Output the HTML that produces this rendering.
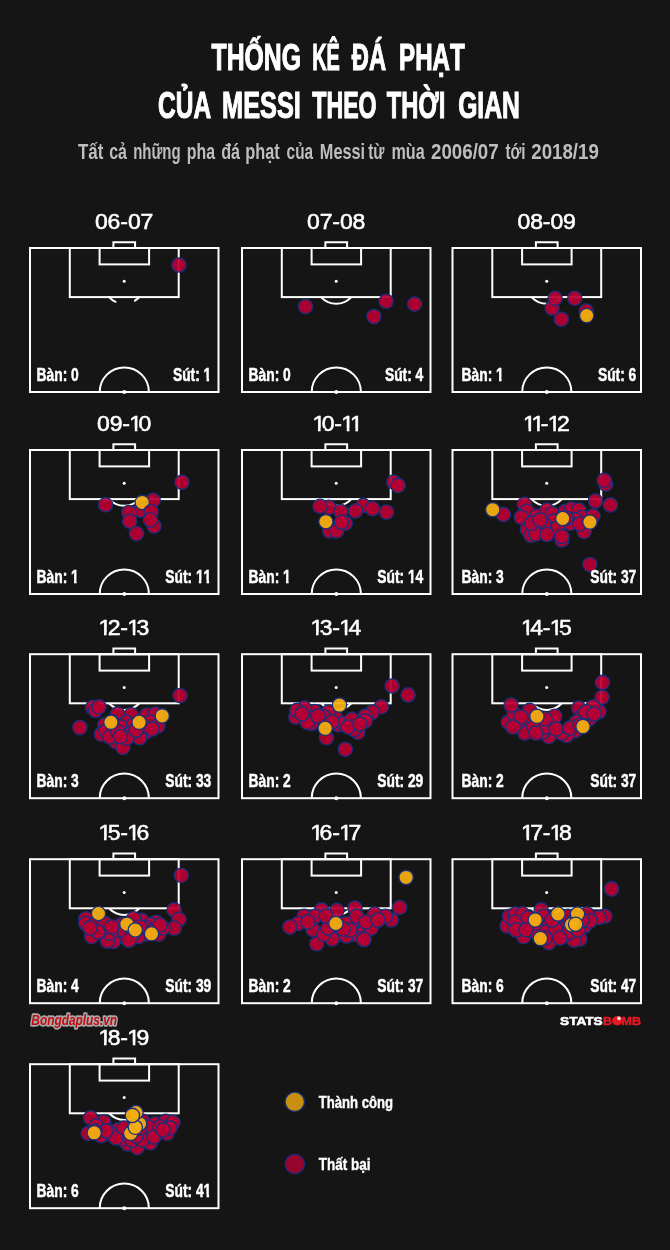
<!DOCTYPE html>
<html lang="vi"><head><meta charset="utf-8"><title>Thống kê đá phạt của Messi theo thời gian</title>
<style>
html,body{margin:0;padding:0;background:#151515;}
body{width:670px;height:1250px;overflow:hidden;font-family:"Liberation Sans",sans-serif;}
svg{display:block}
text{font-family:"Liberation Sans",sans-serif;fill:#fff}
.h1{font-weight:bold;font-size:36px;stroke:#fff;stroke-width:1.1px}
.sub{font-weight:bold;font-size:21.6px;fill:#bebebe}
.ttl{font-size:21.5px;stroke:#fff;stroke-width:.55px}
.st{font-kerning:none;font-weight:bold;font-size:18.3px;stroke:#fff;stroke-width:.5px}
.lg{font-weight:bold;font-size:17px;stroke:#fff;stroke-width:.4px}
.c{fill:#b80033;fill-opacity:.93;stroke:#17307c;stroke-width:1.3}
.g{fill:#f5ae10;fill-opacity:.94;stroke:#17307c;stroke-width:1.3}
.wm{font-weight:bold;font-style:italic;font-size:14.5px;fill:#c20d12;stroke:#a8a8a8;stroke-width:3.4px;paint-order:stroke fill;stroke-linejoin:round}
.sb{font-weight:bold;font-size:11.5px;stroke:#fff;stroke-width:.55px}
</style></head><body>
<svg width="670" height="1250" viewBox="0 0 670 1250">
<rect width="670" height="1250" fill="#151515"/>
<text class="h1" y="70.2"><tspan x="211.58" textLength="89.40" lengthAdjust="spacingAndGlyphs">THỐNG</tspan> <tspan x="312.13" textLength="27.70" lengthAdjust="spacingAndGlyphs">KÊ</tspan> <tspan x="351.78" textLength="34.30" lengthAdjust="spacingAndGlyphs">ĐÁ</tspan> <tspan x="399.06" textLength="65.64" lengthAdjust="spacingAndGlyphs">PHẠT</tspan></text>
<text class="h1" y="118.0"><tspan x="158.06" textLength="52.12" lengthAdjust="spacingAndGlyphs">CỦA</tspan> <tspan x="222.08" textLength="78.76" lengthAdjust="spacingAndGlyphs">MESSI</tspan> <tspan x="312.30" textLength="64.32" lengthAdjust="spacingAndGlyphs">THEO</tspan> <tspan x="386.79" textLength="58.45" lengthAdjust="spacingAndGlyphs">THỜI</tspan> <tspan x="458.14" textLength="61.66" lengthAdjust="spacingAndGlyphs">GIAN</tspan></text>
<text class="sub" y="158.6"><tspan x="77.91" textLength="25.39" lengthAdjust="spacingAndGlyphs">Tất</tspan> <tspan x="109.18" textLength="17.71" lengthAdjust="spacingAndGlyphs">cả</tspan> <tspan x="133.13" textLength="47.47" lengthAdjust="spacingAndGlyphs">những</tspan> <tspan x="186.77" textLength="28.22" lengthAdjust="spacingAndGlyphs">pha</tspan> <tspan x="221.14" textLength="18.92" lengthAdjust="spacingAndGlyphs">đá</tspan> <tspan x="245.24" textLength="34.45" lengthAdjust="spacingAndGlyphs">phạt</tspan> <tspan x="286.60" textLength="26.49" lengthAdjust="spacingAndGlyphs">của</tspan> <tspan x="319.83" textLength="45.22" lengthAdjust="spacingAndGlyphs">Messi</tspan> <tspan x="368.22" textLength="16.27" lengthAdjust="spacingAndGlyphs">từ</tspan> <tspan x="391.45" textLength="33.24" lengthAdjust="spacingAndGlyphs">mùa</tspan> <tspan x="430.96" textLength="67.74" lengthAdjust="spacingAndGlyphs">2006/07</tspan> <tspan x="505.42" textLength="20.15" lengthAdjust="spacingAndGlyphs">tới</tspan> <tspan x="531.26" textLength="67.60" lengthAdjust="spacingAndGlyphs">2018/19</tspan></text>
<g transform="translate(30.0,248.0)" fill="none" stroke="#fff" stroke-width="2.0">
<rect x="0" y="0" width="188.5" height="144.0"/>
<rect x="39.8" y="0" width="108.9" height="49.1"/>
<rect x="69.6" y="0" width="49.5" height="16.4"/>
<path d="M83.4 0V-5.8H105.1V0"/>
<path d="M79.0 49.1A21.5 22.6 0 0 0 85.5 53.8M109.4 49.1A21.5 22.6 0 0 1 104.9 52.7" stroke-linecap="round"/>
<path d="M69.7 144.0A24.6 24.6 0 0 1 118.9 144.0"/>
<circle cx="94.2" cy="33.2" r="1.5" fill="#fff" stroke="none"/>
<circle cx="94.3" cy="144.0" r="2" fill="#fff" stroke="none"/>
</g>
<circle class="c" cx="179.0" cy="265.0" r="7.15"/>
<text class="ttl" transform="translate(0,229.2) scale(1.07,1)" x="88.87 100.58 112.50 119.53 131.30" y="0">06-07</text>
<text class="st" transform="translate(36.60,380.80) scale(0.755,1)">Bàn: 0</text>
<text class="st" transform="translate(211.30,380.80) scale(0.755,1)" text-anchor="end">Sút: 1</text><g fill="#151515"><rect x="203.19" y="377.93" width="3.30" height="4.07"/><rect x="209.09" y="377.93" width="4.28" height="4.07"/></g>
<g transform="translate(242.0,248.0)" fill="none" stroke="#fff" stroke-width="2.0">
<rect x="0" y="0" width="188.5" height="144.0"/>
<rect x="39.8" y="0" width="108.9" height="49.1"/>
<rect x="69.6" y="0" width="49.5" height="16.4"/>
<path d="M83.4 0V-5.8H105.1V0"/>
<path d="M79.0 49.1A21.5 22.6 0 0 0 109.4 49.1"/>
<path d="M69.7 144.0A24.6 24.6 0 0 1 118.9 144.0"/>
<circle cx="94.2" cy="33.2" r="1.5" fill="#fff" stroke="none"/>
<circle cx="94.3" cy="144.0" r="2" fill="#fff" stroke="none"/>
</g>
<circle class="c" cx="305.5" cy="306.6" r="7.15"/><circle class="c" cx="386.1" cy="301.3" r="7.15"/><circle class="c" cx="373.9" cy="316.6" r="7.15"/><circle class="c" cx="414.6" cy="304.1" r="7.15"/>
<text class="ttl" transform="translate(0,229.2) scale(1.07,1)" x="287.00 298.78 310.63 317.66 329.44" y="0">07-08</text>
<text class="st" transform="translate(248.60,380.80) scale(0.755,1)">Bàn: 0</text>
<text class="st" transform="translate(423.30,380.80) scale(0.755,1)" text-anchor="end">Sút: 4</text>
<g transform="translate(452.5,248.0)" fill="none" stroke="#fff" stroke-width="2.0">
<rect x="0" y="0" width="188.5" height="144.0"/>
<rect x="39.8" y="0" width="108.9" height="49.1"/>
<rect x="69.6" y="0" width="49.5" height="16.4"/>
<path d="M83.4 0V-5.8H105.1V0"/>
<path d="M79.0 49.1A21.5 22.6 0 0 0 109.4 49.1"/>
<path d="M69.7 144.0A24.6 24.6 0 0 1 118.9 144.0"/>
<circle cx="94.2" cy="33.2" r="1.5" fill="#fff" stroke="none"/>
<circle cx="94.3" cy="144.0" r="2" fill="#fff" stroke="none"/>
</g>
<circle class="c" cx="552.1" cy="308.1" r="7.15"/><circle class="c" cx="555.1" cy="298.3" r="7.15"/><circle class="c" cx="574.8" cy="298.3" r="7.15"/><circle class="c" cx="561.3" cy="319.2" r="7.15"/><circle class="c" cx="586.1" cy="311.1" r="7.15"/><circle class="g" cx="586.7" cy="315.6" r="7.15"/>
<text class="ttl" transform="translate(0,229.2) scale(1.07,1)" x="483.73 495.52 507.35 514.39 526.18" y="0">08-09</text>
<text class="st" transform="translate(461.60,380.80) scale(0.755,1)">Bàn: 1</text><g fill="#151515"><rect x="495.71" y="377.93" width="3.30" height="4.07"/><rect x="501.61" y="377.93" width="4.28" height="4.07"/></g>
<text class="st" transform="translate(636.30,380.80) scale(0.755,1)" text-anchor="end">Sút: 6</text>
<g transform="translate(30.0,450.0)" fill="none" stroke="#fff" stroke-width="2.0">
<rect x="0" y="0" width="188.5" height="144.0"/>
<rect x="39.8" y="0" width="108.9" height="49.1"/>
<rect x="69.6" y="0" width="49.5" height="16.4"/>
<path d="M83.4 0V-5.8H105.1V0"/>
<path d="M79.0 49.1A21.5 22.6 0 0 0 109.4 49.1"/>
<path d="M69.7 144.0A24.6 24.6 0 0 1 118.9 144.0"/>
<circle cx="94.2" cy="33.2" r="1.5" fill="#fff" stroke="none"/>
<circle cx="94.3" cy="144.0" r="2" fill="#fff" stroke="none"/>
</g>
<circle class="c" cx="105.6" cy="504.7" r="7.15"/><circle class="c" cx="182.0" cy="482.2" r="7.15"/><circle class="c" cx="153.2" cy="500.3" r="7.15"/><circle class="c" cx="140.1" cy="510.2" r="7.15"/><circle class="g" cx="142.2" cy="502.4" r="7.15"/><circle class="c" cx="128.9" cy="512.6" r="7.15"/><circle class="c" cx="151.1" cy="511.8" r="7.15"/><circle class="c" cx="154.0" cy="526.1" r="7.15"/><circle class="c" cx="129.7" cy="521.2" r="7.15"/><circle class="c" cx="150.4" cy="520.0" r="7.15"/><circle class="c" cx="136.5" cy="533.6" r="7.15"/>
<text class="ttl" transform="translate(0,431.2) scale(1.07,1)" x="90.74 102.54 114.36 120.83 129.43" y="0">09-10</text><g fill="#151515"><rect x="129.84" y="428.39" width="4.93" height="4.31"/><rect x="137.40" y="428.39" width="4.15" height="4.31"/></g>
<text class="st" transform="translate(36.60,582.80) scale(0.755,1)">Bàn: 1</text><g fill="#151515"><rect x="70.71" y="579.93" width="3.30" height="4.07"/><rect x="76.61" y="579.93" width="4.28" height="4.07"/></g>
<text class="st" transform="translate(211.30,582.80) scale(0.755,1)" text-anchor="end">Sút: 11</text><g fill="#151515"><rect x="195.50" y="579.93" width="3.30" height="4.07"/><rect x="201.40" y="579.93" width="4.28" height="4.07"/><rect x="203.19" y="579.93" width="3.30" height="4.07"/><rect x="209.09" y="579.93" width="4.28" height="4.07"/></g>
<g transform="translate(242.0,450.0)" fill="none" stroke="#fff" stroke-width="2.0">
<rect x="0" y="0" width="188.5" height="144.0"/>
<rect x="39.8" y="0" width="108.9" height="49.1"/>
<rect x="69.6" y="0" width="49.5" height="16.4"/>
<path d="M83.4 0V-5.8H105.1V0"/>
<path d="M79.0 49.1A21.5 22.6 0 0 0 109.4 49.1"/>
<path d="M69.7 144.0A24.6 24.6 0 0 1 118.9 144.0"/>
<circle cx="94.2" cy="33.2" r="1.5" fill="#fff" stroke="none"/>
<circle cx="94.3" cy="144.0" r="2" fill="#fff" stroke="none"/>
</g>
<circle class="c" cx="393.8" cy="482.1" r="7.15"/><circle class="c" cx="398.1" cy="485.4" r="7.15"/><circle class="c" cx="328.8" cy="507.3" r="7.15"/><circle class="c" cx="320.1" cy="506.3" r="7.15"/><circle class="c" cx="340.8" cy="511.6" r="7.15"/><circle class="c" cx="363.3" cy="505.4" r="7.15"/><circle class="c" cx="355.4" cy="511.0" r="7.15"/><circle class="c" cx="372.5" cy="508.7" r="7.15"/><circle class="c" cx="386.6" cy="512.1" r="7.15"/><circle class="c" cx="329.8" cy="531.0" r="7.15"/><circle class="c" cx="336.6" cy="531.0" r="7.15"/><circle class="c" cx="345.3" cy="523.2" r="7.15"/><circle class="c" cx="341.4" cy="522.2" r="7.15"/><circle class="g" cx="325.9" cy="521.7" r="7.15"/>
<text class="ttl" transform="translate(0,431.2) scale(1.07,1)" x="292.04 300.65 312.50 318.96 326.99" y="0">10-11</text><g fill="#151515"><rect x="313.04" y="428.39" width="4.93" height="4.31"/><rect x="320.60" y="428.39" width="4.15" height="4.31"/><rect x="341.84" y="428.39" width="4.93" height="4.31"/><rect x="349.40" y="428.39" width="4.15" height="4.31"/><rect x="350.44" y="428.39" width="4.93" height="4.31"/><rect x="358.00" y="428.39" width="4.15" height="4.31"/></g>
<text class="st" transform="translate(248.60,582.80) scale(0.755,1)">Bàn: 1</text><g fill="#151515"><rect x="282.71" y="579.93" width="3.30" height="4.07"/><rect x="288.61" y="579.93" width="4.28" height="4.07"/></g>
<text class="st" transform="translate(423.30,582.80) scale(0.755,1)" text-anchor="end">Sút: 14</text><g fill="#151515"><rect x="407.50" y="579.93" width="3.30" height="4.07"/><rect x="413.40" y="579.93" width="4.28" height="4.07"/></g>
<g transform="translate(452.5,450.0)" fill="none" stroke="#fff" stroke-width="2.0">
<rect x="0" y="0" width="188.5" height="144.0"/>
<rect x="39.8" y="0" width="108.9" height="49.1"/>
<rect x="69.6" y="0" width="49.5" height="16.4"/>
<path d="M83.4 0V-5.8H105.1V0"/>
<path d="M79.0 49.1A21.5 22.6 0 0 0 109.4 49.1"/>
<path d="M69.7 144.0A24.6 24.6 0 0 1 118.9 144.0"/>
<circle cx="94.2" cy="33.2" r="1.5" fill="#fff" stroke="none"/>
<circle cx="94.3" cy="144.0" r="2" fill="#fff" stroke="none"/>
</g>
<circle class="c" cx="605.6" cy="483.9" r="7.15"/><circle class="c" cx="604.2" cy="480.3" r="7.15"/><circle class="c" cx="595.4" cy="501.1" r="7.15"/><circle class="c" cx="610.4" cy="504.9" r="7.15"/><circle class="c" cx="503.4" cy="514.4" r="7.15"/><circle class="c" cx="524.4" cy="504.2" r="7.15"/><circle class="c" cx="527.3" cy="511.3" r="7.15"/><circle class="c" cx="521.3" cy="517.3" r="7.15"/><circle class="c" cx="536.9" cy="516.1" r="7.15"/><circle class="c" cx="546.9" cy="510.1" r="7.15"/><circle class="c" cx="552.4" cy="513.7" r="7.15"/><circle class="c" cx="565.5" cy="511.3" r="7.15"/><circle class="c" cx="571.5" cy="509.0" r="7.15"/><circle class="c" cx="578.7" cy="510.1" r="7.15"/><circle class="c" cx="582.2" cy="517.3" r="7.15"/><circle class="c" cx="593.0" cy="516.1" r="7.15"/><circle class="c" cx="575.1" cy="519.7" r="7.15"/><circle class="c" cx="570.3" cy="523.3" r="7.15"/><circle class="c" cx="553.6" cy="520.9" r="7.15"/><circle class="c" cx="557.2" cy="528.0" r="7.15"/><circle class="c" cx="541.6" cy="529.3" r="7.15"/><circle class="c" cx="527.3" cy="529.3" r="7.15"/><circle class="c" cx="544.0" cy="524.5" r="7.15"/><circle class="c" cx="530.9" cy="535.2" r="7.15"/><circle class="c" cx="535.7" cy="534.0" r="7.15"/><circle class="c" cx="546.9" cy="534.5" r="7.15"/><circle class="c" cx="561.9" cy="540.0" r="7.15"/><circle class="c" cx="561.9" cy="536.4" r="7.15"/><circle class="c" cx="584.1" cy="531.6" r="7.15"/><circle class="c" cx="531.6" cy="523.3" r="7.15"/><circle class="c" cx="589.9" cy="564.6" r="7.15"/><circle class="c" cx="540.0" cy="520.0" r="7.15"/><circle class="c" cx="566.0" cy="518.0" r="7.15"/><circle class="c" cx="580.0" cy="524.0" r="7.15"/><circle class="g" cx="492.7" cy="509.7" r="7.15"/><circle class="g" cx="562.7" cy="518.5" r="7.15"/><circle class="g" cx="589.9" cy="522.1" r="7.15"/>
<text class="ttl" transform="translate(0,431.2) scale(1.07,1)" x="488.77 496.81 505.49 511.95 520.57" y="0">11-12</text><g fill="#151515"><rect x="523.54" y="428.39" width="4.93" height="4.31"/><rect x="531.10" y="428.39" width="4.15" height="4.31"/><rect x="532.14" y="428.39" width="4.93" height="4.31"/><rect x="539.70" y="428.39" width="4.15" height="4.31"/><rect x="548.34" y="428.39" width="4.93" height="4.31"/><rect x="555.90" y="428.39" width="2.10" height="4.31"/></g>
<text class="st" transform="translate(461.60,582.80) scale(0.755,1)">Bàn: 3</text>
<text class="st" transform="translate(636.30,582.80) scale(0.755,1)" text-anchor="end">Sút: 37</text>
<g transform="translate(30.0,654.2)" fill="none" stroke="#fff" stroke-width="2.0">
<rect x="0" y="0" width="188.5" height="144.0"/>
<rect x="39.8" y="0" width="108.9" height="49.1"/>
<rect x="69.6" y="0" width="49.5" height="16.4"/>
<path d="M83.4 0V-5.8H105.1V0"/>
<path d="M79.0 49.1A21.5 22.6 0 0 0 109.4 49.1"/>
<path d="M69.7 144.0A24.6 24.6 0 0 1 118.9 144.0"/>
<circle cx="94.2" cy="33.2" r="1.5" fill="#fff" stroke="none"/>
<circle cx="94.3" cy="144.0" r="2" fill="#fff" stroke="none"/>
</g>
<circle class="c" cx="180.1" cy="695.6" r="7.15"/><circle class="c" cx="79.9" cy="727.6" r="7.15"/><circle class="c" cx="92.5" cy="707.5" r="7.15"/><circle class="c" cx="95.4" cy="710.4" r="7.15"/><circle class="c" cx="99.0" cy="706.8" r="7.15"/><circle class="c" cx="117.6" cy="714.0" r="7.15"/><circle class="c" cx="131.2" cy="714.7" r="7.15"/><circle class="c" cx="146.7" cy="715.1" r="7.15"/><circle class="c" cx="155.1" cy="714.0" r="7.15"/><circle class="c" cx="126.4" cy="722.3" r="7.15"/><circle class="c" cx="150.3" cy="722.3" r="7.15"/><circle class="c" cx="104.9" cy="724.7" r="7.15"/><circle class="c" cx="121.6" cy="727.1" r="7.15"/><circle class="c" cx="133.6" cy="724.7" r="7.15"/><circle class="c" cx="157.9" cy="725.9" r="7.15"/><circle class="c" cx="145.5" cy="731.9" r="7.15"/><circle class="c" cx="139.6" cy="737.8" r="7.15"/><circle class="c" cx="131.2" cy="733.1" r="7.15"/><circle class="c" cx="101.3" cy="734.3" r="7.15"/><circle class="c" cx="106.1" cy="730.7" r="7.15"/><circle class="c" cx="115.7" cy="741.4" r="7.15"/><circle class="c" cx="122.8" cy="747.4" r="7.15"/><circle class="c" cx="112.0" cy="722.0" r="7.15"/><circle class="c" cx="143.0" cy="726.0" r="7.15"/><circle class="c" cx="127.0" cy="738.0" r="7.15"/><circle class="c" cx="110.0" cy="737.0" r="7.15"/><circle class="c" cx="152.0" cy="729.0" r="7.15"/><circle class="c" cx="136.0" cy="730.0" r="7.15"/><circle class="c" cx="118.0" cy="732.0" r="7.15"/><circle class="c" cx="120.4" cy="736.6" r="7.15"/><circle class="g" cx="110.9" cy="722.3" r="7.15"/><circle class="g" cx="139.1" cy="722.3" r="7.15"/><circle class="g" cx="162.2" cy="715.9" r="7.15"/>
<text class="ttl" transform="translate(0,635.4) scale(1.07,1)" x="92.04 100.66 112.50 118.96 127.63" y="0">12-13</text><g fill="#151515"><rect x="99.04" y="632.59" width="4.93" height="4.31"/><rect x="106.60" y="632.59" width="2.10" height="4.31"/><rect x="127.84" y="632.59" width="4.93" height="4.31"/><rect x="135.40" y="632.59" width="4.15" height="4.31"/></g>
<text class="st" transform="translate(36.60,787.00) scale(0.755,1)">Bàn: 3</text>
<text class="st" transform="translate(211.30,787.00) scale(0.755,1)" text-anchor="end">Sút: 33</text>
<g transform="translate(242.0,654.2)" fill="none" stroke="#fff" stroke-width="2.0">
<rect x="0" y="0" width="188.5" height="144.0"/>
<rect x="39.8" y="0" width="108.9" height="49.1"/>
<rect x="69.6" y="0" width="49.5" height="16.4"/>
<path d="M83.4 0V-5.8H105.1V0"/>
<path d="M79.0 49.1A21.5 22.6 0 0 0 109.4 49.1"/>
<path d="M69.7 144.0A24.6 24.6 0 0 1 118.9 144.0"/>
<circle cx="94.2" cy="33.2" r="1.5" fill="#fff" stroke="none"/>
<circle cx="94.3" cy="144.0" r="2" fill="#fff" stroke="none"/>
</g>
<circle class="c" cx="392.1" cy="686.0" r="7.15"/><circle class="c" cx="408.1" cy="694.9" r="7.15"/><circle class="c" cx="381.3" cy="706.8" r="7.15"/><circle class="c" cx="372.2" cy="712.3" r="7.15"/><circle class="c" cx="365.1" cy="716.3" r="7.15"/><circle class="c" cx="365.1" cy="721.1" r="7.15"/><circle class="c" cx="357.9" cy="732.3" r="7.15"/><circle class="c" cx="354.3" cy="729.5" r="7.15"/><circle class="c" cx="338.3" cy="724.7" r="7.15"/><circle class="c" cx="336.4" cy="718.7" r="7.15"/><circle class="c" cx="343.6" cy="723.5" r="7.15"/><circle class="c" cx="351.9" cy="719.4" r="7.15"/><circle class="c" cx="328.1" cy="712.3" r="7.15"/><circle class="c" cx="324.0" cy="717.1" r="7.15"/><circle class="c" cx="314.4" cy="711.6" r="7.15"/><circle class="c" cx="311.3" cy="723.5" r="7.15"/><circle class="c" cx="304.2" cy="708.0" r="7.15"/><circle class="c" cx="295.8" cy="717.1" r="7.15"/><circle class="c" cx="297.0" cy="710.4" r="7.15"/><circle class="c" cx="307.3" cy="722.3" r="7.15"/><circle class="c" cx="326.4" cy="737.8" r="7.15"/><circle class="c" cx="345.3" cy="749.3" r="7.15"/><circle class="c" cx="318.0" cy="716.0" r="7.15"/><circle class="c" cx="332.0" cy="722.0" r="7.15"/><circle class="c" cx="348.0" cy="727.0" r="7.15"/><circle class="c" cx="360.0" cy="724.0" r="7.15"/><circle class="c" cx="302.0" cy="714.0" r="7.15"/><circle class="g" cx="339.5" cy="705.1" r="7.15"/><circle class="g" cx="325.2" cy="728.3" r="7.15"/>
<text class="ttl" transform="translate(0,635.4) scale(1.07,1)" x="290.17 298.84 310.63 317.09 325.78" y="0">13-14</text><g fill="#151515"><rect x="311.04" y="632.59" width="4.93" height="4.31"/><rect x="318.60" y="632.59" width="4.15" height="4.31"/><rect x="339.84" y="632.59" width="4.93" height="4.31"/><rect x="347.40" y="632.59" width="4.15" height="4.31"/></g>
<text class="st" transform="translate(248.60,787.00) scale(0.755,1)">Bàn: 2</text>
<text class="st" transform="translate(423.30,787.00) scale(0.755,1)" text-anchor="end">Sút: 29</text>
<g transform="translate(452.5,654.2)" fill="none" stroke="#fff" stroke-width="2.0">
<rect x="0" y="0" width="188.5" height="144.0"/>
<rect x="39.8" y="0" width="108.9" height="49.1"/>
<rect x="69.6" y="0" width="49.5" height="16.4"/>
<path d="M83.4 0V-5.8H105.1V0"/>
<path d="M79.0 49.1A21.5 22.6 0 0 0 109.4 49.1"/>
<path d="M69.7 144.0A24.6 24.6 0 0 1 118.9 144.0"/>
<circle cx="94.2" cy="33.2" r="1.5" fill="#fff" stroke="none"/>
<circle cx="94.3" cy="144.0" r="2" fill="#fff" stroke="none"/>
</g>
<circle class="c" cx="602.5" cy="682.4" r="7.15"/><circle class="c" cx="602.1" cy="697.2" r="7.15"/><circle class="c" cx="599.0" cy="711.6" r="7.15"/><circle class="c" cx="593.0" cy="706.8" r="7.15"/><circle class="c" cx="578.7" cy="708.0" r="7.15"/><circle class="c" cx="589.4" cy="718.7" r="7.15"/><circle class="c" cx="582.2" cy="716.3" r="7.15"/><circle class="c" cx="576.3" cy="722.3" r="7.15"/><circle class="c" cx="575.1" cy="730.7" r="7.15"/><circle class="c" cx="566.7" cy="735.4" r="7.15"/><circle class="c" cx="561.9" cy="733.1" r="7.15"/><circle class="c" cx="548.8" cy="736.6" r="7.15"/><circle class="c" cx="542.8" cy="731.9" r="7.15"/><circle class="c" cx="552.4" cy="722.3" r="7.15"/><circle class="c" cx="554.8" cy="716.3" r="7.15"/><circle class="c" cx="529.7" cy="710.4" r="7.15"/><circle class="c" cx="529.7" cy="722.3" r="7.15"/><circle class="c" cx="524.9" cy="733.1" r="7.15"/><circle class="c" cx="517.8" cy="722.3" r="7.15"/><circle class="c" cx="508.2" cy="722.3" r="7.15"/><circle class="c" cx="514.2" cy="714.0" r="7.15"/><circle class="c" cx="511.1" cy="705.1" r="7.15"/><circle class="c" cx="541.6" cy="723.5" r="7.15"/><circle class="c" cx="539.3" cy="728.3" r="7.15"/><circle class="c" cx="534.0" cy="727.0" r="7.15"/><circle class="c" cx="546.0" cy="727.0" r="7.15"/><circle class="c" cx="556.0" cy="729.0" r="7.15"/><circle class="c" cx="570.0" cy="728.0" r="7.15"/><circle class="c" cx="586.0" cy="712.0" r="7.15"/><circle class="c" cx="521.0" cy="717.0" r="7.15"/><circle class="c" cx="513.0" cy="727.0" r="7.15"/><circle class="c" cx="545.0" cy="719.0" r="7.15"/><circle class="c" cx="536.0" cy="733.0" r="7.15"/><circle class="c" cx="580.0" cy="725.0" r="7.15"/><circle class="c" cx="594.0" cy="714.0" r="7.15"/><circle class="g" cx="536.9" cy="716.3" r="7.15"/><circle class="g" cx="583.0" cy="726.6" r="7.15"/>
<text class="ttl" transform="translate(0,635.4) scale(1.07,1)" x="486.90 495.59 507.35 513.82 522.44" y="0">14-15</text><g fill="#151515"><rect x="521.54" y="632.59" width="4.93" height="4.31"/><rect x="529.10" y="632.59" width="4.15" height="4.31"/><rect x="550.34" y="632.59" width="4.93" height="4.31"/><rect x="557.90" y="632.59" width="4.15" height="4.31"/></g>
<text class="st" transform="translate(461.60,787.00) scale(0.755,1)">Bàn: 2</text>
<text class="st" transform="translate(636.30,787.00) scale(0.755,1)" text-anchor="end">Sút: 37</text>
<g transform="translate(30.0,859.2)" fill="none" stroke="#fff" stroke-width="2.0">
<rect x="0" y="0" width="188.5" height="144.0"/>
<rect x="39.8" y="0" width="108.9" height="49.1"/>
<rect x="69.6" y="0" width="49.5" height="16.4"/>
<path d="M83.4 0V-5.8H105.1V0"/>
<path d="M79.0 49.1A21.5 22.6 0 0 0 109.4 49.1"/>
<path d="M69.7 144.0A24.6 24.6 0 0 1 118.9 144.0"/>
<circle cx="94.2" cy="33.2" r="1.5" fill="#fff" stroke="none"/>
<circle cx="94.3" cy="144.0" r="2" fill="#fff" stroke="none"/>
</g>
<circle class="c" cx="181.3" cy="875.3" r="7.15"/><circle class="c" cx="174.2" cy="909.9" r="7.15"/><circle class="c" cx="179.0" cy="919.4" r="7.15"/><circle class="c" cx="174.2" cy="928.3" r="7.15"/><circle class="c" cx="156.3" cy="922.3" r="7.15"/><circle class="c" cx="158.7" cy="934.3" r="7.15"/><circle class="c" cx="141.9" cy="920.4" r="7.15"/><circle class="c" cx="133.6" cy="918.7" r="7.15"/><circle class="c" cx="144.3" cy="934.3" r="7.15"/><circle class="c" cx="128.8" cy="940.2" r="7.15"/><circle class="c" cx="119.3" cy="936.6" r="7.15"/><circle class="c" cx="113.3" cy="941.4" r="7.15"/><circle class="c" cx="107.3" cy="940.9" r="7.15"/><circle class="c" cx="109.7" cy="933.1" r="7.15"/><circle class="c" cx="101.3" cy="929.5" r="7.15"/><circle class="c" cx="91.8" cy="936.6" r="7.15"/><circle class="c" cx="85.8" cy="918.7" r="7.15"/><circle class="c" cx="85.8" cy="923.5" r="7.15"/><circle class="c" cx="94.2" cy="924.7" r="7.15"/><circle class="c" cx="104.9" cy="923.5" r="7.15"/><circle class="c" cx="116.9" cy="929.5" r="7.15"/><circle class="c" cx="138.4" cy="936.6" r="7.15"/><circle class="c" cx="150.3" cy="924.7" r="7.15"/><circle class="c" cx="121.6" cy="924.7" r="7.15"/><circle class="c" cx="98.0" cy="932.0" r="7.15"/><circle class="c" cx="112.0" cy="927.0" r="7.15"/><circle class="c" cx="125.0" cy="932.0" r="7.15"/><circle class="c" cx="146.0" cy="928.0" r="7.15"/><circle class="c" cx="153.0" cy="931.0" r="7.15"/><circle class="c" cx="163.0" cy="928.0" r="7.15"/><circle class="c" cx="90.0" cy="928.0" r="7.15"/><circle class="c" cx="133.0" cy="934.0" r="7.15"/><circle class="c" cx="160.0" cy="925.0" r="7.15"/><circle class="c" cx="140.0" cy="927.0" r="7.15"/><circle class="c" cx="128.8" cy="940.2" r="7.15"/><circle class="g" cx="98.5" cy="913.5" r="7.15"/><circle class="g" cx="126.9" cy="924.2" r="7.15"/><circle class="g" cx="135.3" cy="930.0" r="7.15"/><circle class="g" cx="151.5" cy="933.8" r="7.15"/>
<text class="ttl" transform="translate(0,840.4) scale(1.07,1)" x="92.04 100.67 112.50 118.96 127.50" y="0">15-16</text><g fill="#151515"><rect x="99.04" y="837.59" width="4.93" height="4.31"/><rect x="106.60" y="837.59" width="4.15" height="4.31"/><rect x="127.84" y="837.59" width="4.93" height="4.31"/><rect x="135.40" y="837.59" width="4.15" height="4.31"/></g>
<text class="st" transform="translate(36.60,992.00) scale(0.755,1)">Bàn: 4</text>
<text class="st" transform="translate(211.30,992.00) scale(0.755,1)" text-anchor="end">Sút: 39</text>
<g transform="translate(242.0,859.2)" fill="none" stroke="#fff" stroke-width="2.0">
<rect x="0" y="0" width="188.5" height="144.0"/>
<rect x="39.8" y="0" width="108.9" height="49.1"/>
<rect x="69.6" y="0" width="49.5" height="16.4"/>
<path d="M83.4 0V-5.8H105.1V0"/>
<path d="M79.0 49.1A21.5 22.6 0 0 0 109.4 49.1"/>
<path d="M69.7 144.0A24.6 24.6 0 0 1 118.9 144.0"/>
<circle cx="94.2" cy="33.2" r="1.5" fill="#fff" stroke="none"/>
<circle cx="94.3" cy="144.0" r="2" fill="#fff" stroke="none"/>
</g>
<circle class="c" cx="399.7" cy="907.5" r="7.15"/><circle class="c" cx="391.3" cy="919.9" r="7.15"/><circle class="c" cx="385.4" cy="916.3" r="7.15"/><circle class="c" cx="374.6" cy="914.0" r="7.15"/><circle class="c" cx="355.0" cy="908.0" r="7.15"/><circle class="c" cx="355.5" cy="934.3" r="7.15"/><circle class="c" cx="336.9" cy="910.4" r="7.15"/><circle class="c" cx="321.6" cy="909.9" r="7.15"/><circle class="c" cx="304.2" cy="916.3" r="7.15"/><circle class="c" cx="315.4" cy="916.3" r="7.15"/><circle class="c" cx="298.2" cy="923.5" r="7.15"/><circle class="c" cx="289.9" cy="927.1" r="7.15"/><circle class="c" cx="313.0" cy="929.5" r="7.15"/><circle class="c" cx="324.0" cy="934.3" r="7.15"/><circle class="c" cx="316.6" cy="943.8" r="7.15"/><circle class="c" cx="338.8" cy="934.3" r="7.15"/><circle class="c" cx="332.1" cy="939.0" r="7.15"/><circle class="c" cx="355.5" cy="934.3" r="7.15"/><circle class="c" cx="346.4" cy="935.9" r="7.15"/><circle class="c" cx="363.9" cy="939.5" r="7.15"/><circle class="c" cx="362.7" cy="929.5" r="7.15"/><circle class="c" cx="371.0" cy="928.3" r="7.15"/><circle class="c" cx="360.3" cy="924.7" r="7.15"/><circle class="c" cx="351.9" cy="924.7" r="7.15"/><circle class="c" cx="346.0" cy="923.5" r="7.15"/><circle class="c" cx="356.7" cy="916.3" r="7.15"/><circle class="c" cx="308.0" cy="922.0" r="7.15"/><circle class="c" cx="324.0" cy="934.3" r="7.15"/><circle class="c" cx="350.0" cy="930.0" r="7.15"/><circle class="c" cx="366.0" cy="922.0" r="7.15"/><circle class="c" cx="328.0" cy="928.0" r="7.15"/><circle class="c" cx="343.0" cy="929.0" r="7.15"/><circle class="c" cx="378.0" cy="920.0" r="7.15"/><circle class="c" cx="326.0" cy="916.0" r="7.15"/><circle class="c" cx="363.9" cy="939.5" r="7.15"/><circle class="g" cx="406.1" cy="877.4" r="7.15"/><circle class="g" cx="335.9" cy="923.5" r="7.15"/>
<text class="ttl" transform="translate(0,840.4) scale(1.07,1)" x="290.17 298.71 310.63 317.09 325.69" y="0">16-17</text><g fill="#151515"><rect x="311.04" y="837.59" width="4.93" height="4.31"/><rect x="318.60" y="837.59" width="4.15" height="4.31"/><rect x="339.84" y="837.59" width="4.93" height="4.31"/><rect x="347.40" y="837.59" width="4.15" height="4.31"/></g>
<text class="st" transform="translate(248.60,992.00) scale(0.755,1)">Bàn: 2</text>
<text class="st" transform="translate(423.30,992.00) scale(0.755,1)" text-anchor="end">Sút: 37</text>
<g transform="translate(452.5,859.2)" fill="none" stroke="#fff" stroke-width="2.0">
<rect x="0" y="0" width="188.5" height="144.0"/>
<rect x="39.8" y="0" width="108.9" height="49.1"/>
<rect x="69.6" y="0" width="49.5" height="16.4"/>
<path d="M83.4 0V-5.8H105.1V0"/>
<path d="M79.0 49.1A21.5 22.6 0 0 0 109.4 49.1"/>
<path d="M69.7 144.0A24.6 24.6 0 0 1 118.9 144.0"/>
<circle cx="94.2" cy="33.2" r="1.5" fill="#fff" stroke="none"/>
<circle cx="94.3" cy="144.0" r="2" fill="#fff" stroke="none"/>
</g>
<circle class="c" cx="611.6" cy="888.9" r="7.15"/><circle class="c" cx="604.9" cy="916.3" r="7.15"/><circle class="c" cx="599.0" cy="917.5" r="7.15"/><circle class="c" cx="587.0" cy="914.0" r="7.15"/><circle class="c" cx="584.6" cy="925.9" r="7.15"/><circle class="c" cx="579.9" cy="939.0" r="7.15"/><circle class="c" cx="573.9" cy="940.2" r="7.15"/><circle class="c" cx="564.3" cy="935.4" r="7.15"/><circle class="c" cx="553.6" cy="936.6" r="7.15"/><circle class="c" cx="548.8" cy="942.6" r="7.15"/><circle class="c" cx="523.7" cy="936.6" r="7.15"/><circle class="c" cx="523.7" cy="923.5" r="7.15"/><circle class="c" cx="507.0" cy="925.9" r="7.15"/><circle class="c" cx="509.4" cy="916.3" r="7.15"/><circle class="c" cx="515.4" cy="914.0" r="7.15"/><circle class="c" cx="522.5" cy="914.0" r="7.15"/><circle class="c" cx="541.2" cy="909.9" r="7.15"/><circle class="c" cx="544.0" cy="916.3" r="7.15"/><circle class="c" cx="548.8" cy="927.1" r="7.15"/><circle class="c" cx="560.7" cy="925.9" r="7.15"/><circle class="c" cx="541.6" cy="927.1" r="7.15"/><circle class="c" cx="532.1" cy="930.7" r="7.15"/><circle class="c" cx="567.9" cy="916.3" r="7.15"/><circle class="c" cx="565.5" cy="928.3" r="7.15"/><circle class="c" cx="515.0" cy="922.0" r="7.15"/><circle class="c" cx="530.0" cy="926.0" r="7.15"/><circle class="c" cx="538.0" cy="934.0" r="7.15"/><circle class="c" cx="546.0" cy="932.0" r="7.15"/><circle class="c" cx="556.0" cy="930.0" r="7.15"/><circle class="c" cx="570.0" cy="932.0" r="7.15"/><circle class="c" cx="578.0" cy="930.0" r="7.15"/><circle class="c" cx="590.0" cy="921.0" r="7.15"/><circle class="c" cx="552.0" cy="920.0" r="7.15"/><circle class="c" cx="528.0" cy="918.0" r="7.15"/><circle class="c" cx="516.0" cy="930.0" r="7.15"/><circle class="c" cx="560.0" cy="938.0" r="7.15"/><circle class="c" cx="582.0" cy="920.0" r="7.15"/><circle class="c" cx="536.0" cy="923.0" r="7.15"/><circle class="c" cx="574.0" cy="921.0" r="7.15"/><circle class="c" cx="545.0" cy="938.0" r="7.15"/><circle class="c" cx="526.0" cy="930.0" r="7.15"/><circle class="g" cx="571.5" cy="924.7" r="7.15"/><circle class="g" cx="535.2" cy="919.9" r="7.15"/><circle class="g" cx="557.9" cy="914.0" r="7.15"/><circle class="g" cx="577.5" cy="914.0" r="7.15"/><circle class="g" cx="575.6" cy="924.2" r="7.15"/><circle class="g" cx="540.4" cy="938.6" r="7.15"/>
<text class="ttl" transform="translate(0,840.4) scale(1.07,1)" x="486.90 495.51 507.35 513.82 522.43" y="0">17-18</text><g fill="#151515"><rect x="521.54" y="837.59" width="4.93" height="4.31"/><rect x="529.10" y="837.59" width="4.15" height="4.31"/><rect x="550.34" y="837.59" width="4.93" height="4.31"/><rect x="557.90" y="837.59" width="4.15" height="4.31"/></g>
<text class="st" transform="translate(461.60,992.00) scale(0.755,1)">Bàn: 6</text>
<text class="st" transform="translate(636.30,992.00) scale(0.755,1)" text-anchor="end">Sút: 47</text>
<g transform="translate(30.0,1064.2)" fill="none" stroke="#fff" stroke-width="2.0">
<rect x="0" y="0" width="188.5" height="144.0"/>
<rect x="39.8" y="0" width="108.9" height="49.1"/>
<rect x="69.6" y="0" width="49.5" height="16.4"/>
<path d="M83.4 0V-5.8H105.1V0"/>
<path d="M79.0 49.1A21.5 22.6 0 0 0 109.4 49.1"/>
<path d="M69.7 144.0A24.6 24.6 0 0 1 118.9 144.0"/>
<circle cx="94.2" cy="33.2" r="1.5" fill="#fff" stroke="none"/>
<circle cx="94.3" cy="144.0" r="2" fill="#fff" stroke="none"/>
</g>
<circle class="c" cx="90.6" cy="1117.8" r="7.15"/><circle class="c" cx="103.7" cy="1122.1" r="7.15"/><circle class="c" cx="88.2" cy="1133.3" r="7.15"/><circle class="c" cx="101.3" cy="1135.7" r="7.15"/><circle class="c" cx="108.5" cy="1130.9" r="7.15"/><circle class="c" cx="118.1" cy="1129.7" r="7.15"/><circle class="c" cx="112.1" cy="1134.5" r="7.15"/><circle class="c" cx="121.6" cy="1138.1" r="7.15"/><circle class="c" cx="126.4" cy="1134.5" r="7.15"/><circle class="c" cx="127.6" cy="1144.0" r="7.15"/><circle class="c" cx="137.2" cy="1147.6" r="7.15"/><circle class="c" cx="150.3" cy="1142.8" r="7.15"/><circle class="c" cx="145.5" cy="1133.3" r="7.15"/><circle class="c" cx="143.1" cy="1121.3" r="7.15"/><circle class="c" cx="155.1" cy="1123.7" r="7.15"/><circle class="c" cx="152.7" cy="1129.7" r="7.15"/><circle class="c" cx="158.7" cy="1132.1" r="7.15"/><circle class="c" cx="167.0" cy="1133.3" r="7.15"/><circle class="c" cx="165.8" cy="1121.3" r="7.15"/><circle class="c" cx="173.0" cy="1122.5" r="7.15"/><circle class="c" cx="96.0" cy="1126.0" r="7.15"/><circle class="c" cx="122.5" cy="1138.8" r="7.15"/><circle class="c" cx="116.0" cy="1138.0" r="7.15"/><circle class="c" cx="132.0" cy="1140.0" r="7.15"/><circle class="c" cx="142.0" cy="1140.0" r="7.15"/><circle class="c" cx="148.0" cy="1127.0" r="7.15"/><circle class="c" cx="160.0" cy="1127.0" r="7.15"/><circle class="c" cx="170.0" cy="1128.0" r="7.15"/><circle class="c" cx="124.0" cy="1128.0" r="7.15"/><circle class="c" cx="136.0" cy="1136.0" r="7.15"/><circle class="c" cx="106.0" cy="1131.0" r="7.15"/><circle class="c" cx="154.0" cy="1137.0" r="7.15"/><circle class="c" cx="95.0" cy="1131.0" r="7.15"/><circle class="c" cx="140.0" cy="1128.0" r="7.15"/><circle class="c" cx="163.0" cy="1130.0" r="7.15"/><circle class="g" cx="130.7" cy="1133.3" r="7.15"/><circle class="g" cx="139.6" cy="1123.7" r="7.15"/><circle class="g" cx="136.0" cy="1112.5" r="7.15"/><circle class="g" cx="94.2" cy="1132.8" r="7.15"/><circle class="g" cx="135.3" cy="1127.3" r="7.15"/><circle class="g" cx="132.4" cy="1115.4" r="7.15"/>
<text class="ttl" transform="translate(0,1045.4) scale(1.07,1)" x="92.04 100.66 112.50 118.96 127.59" y="0">18-19</text><g fill="#151515"><rect x="99.04" y="1042.59" width="4.93" height="4.31"/><rect x="106.60" y="1042.59" width="4.15" height="4.31"/><rect x="127.84" y="1042.59" width="4.93" height="4.31"/><rect x="135.40" y="1042.59" width="4.15" height="4.31"/></g>
<text class="st" transform="translate(36.60,1197.00) scale(0.755,1)">Bàn: 6</text>
<text class="st" transform="translate(211.30,1197.00) scale(0.755,1)" text-anchor="end">Sút: 41</text><g fill="#151515"><rect x="203.19" y="1194.13" width="3.30" height="4.07"/><rect x="209.09" y="1194.13" width="4.28" height="4.07"/></g>
<circle class="g" cx="294.8" cy="1101.8" r="9.7" style="fill-opacity:.8"/>
<circle class="c" cx="294.8" cy="1164" r="9.7" style="fill-opacity:.8"/>
<text class="lg" x="318.66" y="1107.7" textLength="74.32" lengthAdjust="spacingAndGlyphs">Thành công</text>
<text class="lg" x="318.65" y="1170.0" textLength="51.79" lengthAdjust="spacingAndGlyphs">Thất bại</text>
<text class="wm" x="31.30" y="1024.5" textLength="85.80" lengthAdjust="spacingAndGlyphs">Bongdaplus.vn</text>
<text class="sb" x="560.09" y="1024.8" textLength="42.57" lengthAdjust="spacingAndGlyphs">STATS</text>
<text class="sb" x="603.06" y="1024.8" textLength="37.83" lengthAdjust="spacingAndGlyphs" style="fill:#e21b23;stroke:#e21b23">BOMB</text>
<circle cx="617.6" cy="1020.6" r="4.7" fill="#e21b23"/><circle cx="619" cy="1018.4" r="1.8" fill="#fff" fill-opacity=".85"/>
</svg></body></html>
